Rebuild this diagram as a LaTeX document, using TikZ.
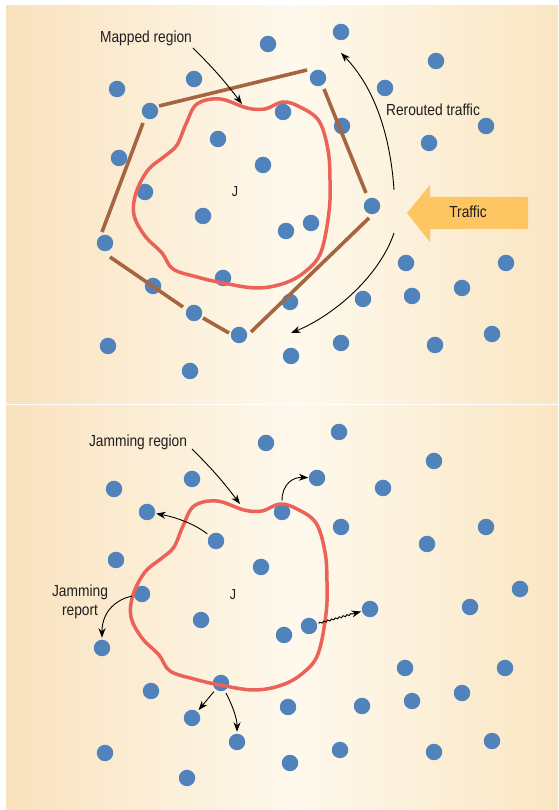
\documentclass[tikz,border=0pt]{standalone}
\usepackage{fontspec}
\setmainfont{Liberation Sans}[FakeStretch=0.86]
\usetikzlibrary{arrows.meta,decorations.pathmorphing}
\definecolor{dotblue}{RGB}{80,130,188}
\definecolor{jamred}{RGB}{234,98,88}
\definecolor{wallbrown}{RGB}{164,101,64}
\definecolor{trafficyellow}{RGB}{253,198,98}
\definecolor{bgL}{RGB}{249,226,190}
\definecolor{bgM}{RGB}{254,249,237}
\definecolor{bgR}{RGB}{250,230,195}
\definecolor{txt}{RGB}{30,30,30}
\begin{document}
\begin{tikzpicture}[x=1pt,y=1pt,
  dot/.style={circle,fill=dotblue,draw=none,minimum size=16.5pt,inner sep=0pt,outer sep=0pt},
  lbl/.style={text=txt,font=\fontsize{16}{18.5}\selectfont,inner sep=0pt},
  arr/.style={draw=black,line width=0.9pt,-{Stealth[length=9.5pt,width=7pt]}},
  wall/.style={draw=wallbrown,line width=3.6pt},
  jam/.style={draw=jamred,line width=3.5pt},
  jamcurve/.pic={\draw[jam] plot[smooth cycle,tension=0.6] coordinates {
    (197,706) (220,711) (247,702) (265,701) (283,708) (300,703) (319,689)
    (328,660) (330,630) (329,598) (321,558) (306,539) (285,527) (257,522)
    (223,527) (197,533) (173,541) (162,557) (145,574) (134,595) (136,617)
    (148,640) (165,654) (177,665) (186,686)};}]
\useasboundingbox (0,0) rectangle (558,810);
\fill[white] (0,0) rectangle (558,810);
% backgrounds
\shade[left color=bgL,right color=bgM] (6,406) rectangle (295,804);
\shade[left color=bgM,right color=bgR] (294.5,406) rectangle (558,804);
\shade[left color=bgL,right color=bgM] (6,0) rectangle (295,404);
\shade[left color=bgM,right color=bgR] (294.5,0) rectangle (558,404);

% ---------- top panel dots
\foreach \x/\y in {268/766,341/778,436/749,194/731,117/721,318/732,385/722,150/699,
  283/698,342/684,486/684,429/667,218/671,119/652,263/645,145/618,372/604,203/594,
  311/587,286/579,105/567,223/532,153/524,406/547,506/547,462/522,412/514,363/511,
  290/508,194/497,239/475,108/464,341/467,435/465,492/476,291/454,190/439}
  \node[dot] (t\x-\y) at (\x,\y) {};

% mapped region walls
\coordinate (w1a) at (159,704); \coordinate (w1b) at (307,740);
\coordinate (w2a) at (324,721); \coordinate (w2b) at (366,617);
\coordinate (w3a) at (369,592); \coordinate (w3b) at (251,478);
\coordinate (w4a) at (229,477); \coordinate (w4b) at (203,492);
\coordinate (w4c) at (183,503); \coordinate (w4d) at (110,553);
\coordinate (w5a) at (102,578); \coordinate (w5b) at (143,687);
\draw[wall] (w1a) -- (w1b);
\draw[wall] (w2a) -- (w2b);
\draw[wall] (w3a) -- (w3b);
\draw[wall] (w4a) -- (w4b);
\draw[wall] (w4c) -- (w4d);
\draw[wall] (w5a) -- (w5b);

% jammed region (top)
\pic at (0,0) {jamcurve};

% labels top
\node[lbl] (mapped) at (146,772) {Mapped region};
\node[lbl] (rerouted) at (433,700) {Rerouted traffic};
\node[lbl,font=\fontsize{14.5}{16}\selectfont] (jtop) at (235,618) {J};

% traffic arrow
\fill[trafficyellow] (407,597) -- (430,625) -- (430,613) -- (528,613) -- (528,581)
  -- (430,581) -- (430,568) -- cycle;
\node[lbl] (traffic) at (468,598) {Traffic};

% arrows top
\coordinate (mA) at (193,762); \coordinate (mB) at (242,706);
\draw[arr] (mA) to[bend left=4] (mB);
\coordinate (rA) at (394,620); \coordinate (rB) at (341,757);
\draw[arr] (rA) .. controls (390,680) and (372,725) .. (rB);
\coordinate (sA) at (394,577); \coordinate (sB) at (291,477);
\draw[arr] (sA) .. controls (380,535) and (335,495) .. (sB);

% ---------- bottom panel dots
\foreach \x/\y in {266/367,339/378,434/349,192/331,114/321,317/332,383/322,147/298,
  282/298,341/283,486/283,427/266,216/269,116/250,261/243,142/216,370/201,470/203,
  520/221,201/190,309/184,284/175,102/162,405/142,505/142,462/117,412/109,362/104,
  221/127,288/103,151/119,192/92,237/68,105/57,340/60,434/58,492/69,290/47,187/32}
  \node[dot] (b\x-\y) at (\x,\y) {};

\pic at (-3,-402) {jamcurve};

\node[lbl] (jamreg) at (138,368) {Jamming region};
\node[lbl,align=center] (jamrep) at (80,208) {Jamming\\report};
\node[lbl,font=\fontsize{14.5}{16}\selectfont] (jbot) at (233,215) {J};

\coordinate (jA) at (192,361); \coordinate (jB) at (240,306);
\draw[arr] (jA) to[bend left=4] (jB);
\draw[arr,shorten <=3pt,shorten >=1pt] (b216-269) .. controls (195,286) and (175,293) .. (b147-298);
\draw[arr,shorten <=3pt,shorten >=0.5pt] (b282-298) .. controls (282,326) and (293,333) .. (b317-332);
\draw[arr,shorten <=2pt,shorten >=1pt,decorate,decoration={snake,amplitude=0.8pt,segment length=4pt,pre length=2pt,post length=10pt}] (b309-184) -- (b370-201);
\draw[arr,shorten <=3pt,shorten >=2pt] (b221-127) -- (b192-92);
\draw[arr,shorten <=3pt,shorten >=2pt] (b221-127) .. controls (233,103) and (237,92) .. (b237-68);
\draw[arr,shorten <=2pt,shorten >=2pt] (b142-216) .. controls (118,211) and (102,200) .. (b102-162);
\end{tikzpicture}
\end{document}
